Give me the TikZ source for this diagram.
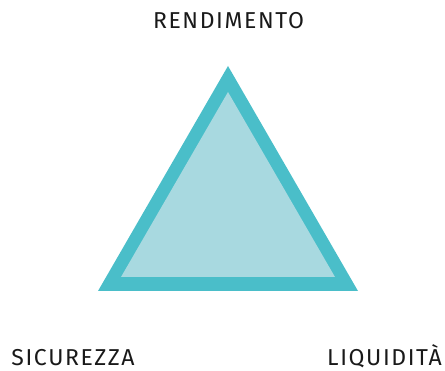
\documentclass[tikz,border=0pt]{standalone}
\usepackage{fontspec}
\setmainfont{Fira Sans}[LetterSpace=7]
\definecolor{teal1}{HTML}{4ABEC9}
\definecolor{teal2}{HTML}{A8D9E0}
\begin{document}
\begin{tikzpicture}[x=1pt,y=-1pt,
  lab/.style={font=\fontsize{23}{27}\selectfont, text=black!90, inner sep=0pt, anchor=base}]
\useasboundingbox (0,0) rectangle (445,371);
\coordinate (A) at (228,66);
\coordinate (B) at (98,291);
\coordinate (C) at (358,291);
\coordinate (a) at (228,92);
\coordinate (b) at (121,277);
\coordinate (c) at (335,277);
\fill[teal1] (A) -- (C) -- (B) -- cycle;
\fill[teal2] (a) -- (c) -- (b) -- cycle;
\node[lab] (r) at (228.5,28.5) {RENDIMENTO};
\node[lab] (s) at (73,366) {SICUREZZA};
\node[lab] (l) at (384.5,366) {LIQUIDITÀ};
\end{tikzpicture}
\end{document}
